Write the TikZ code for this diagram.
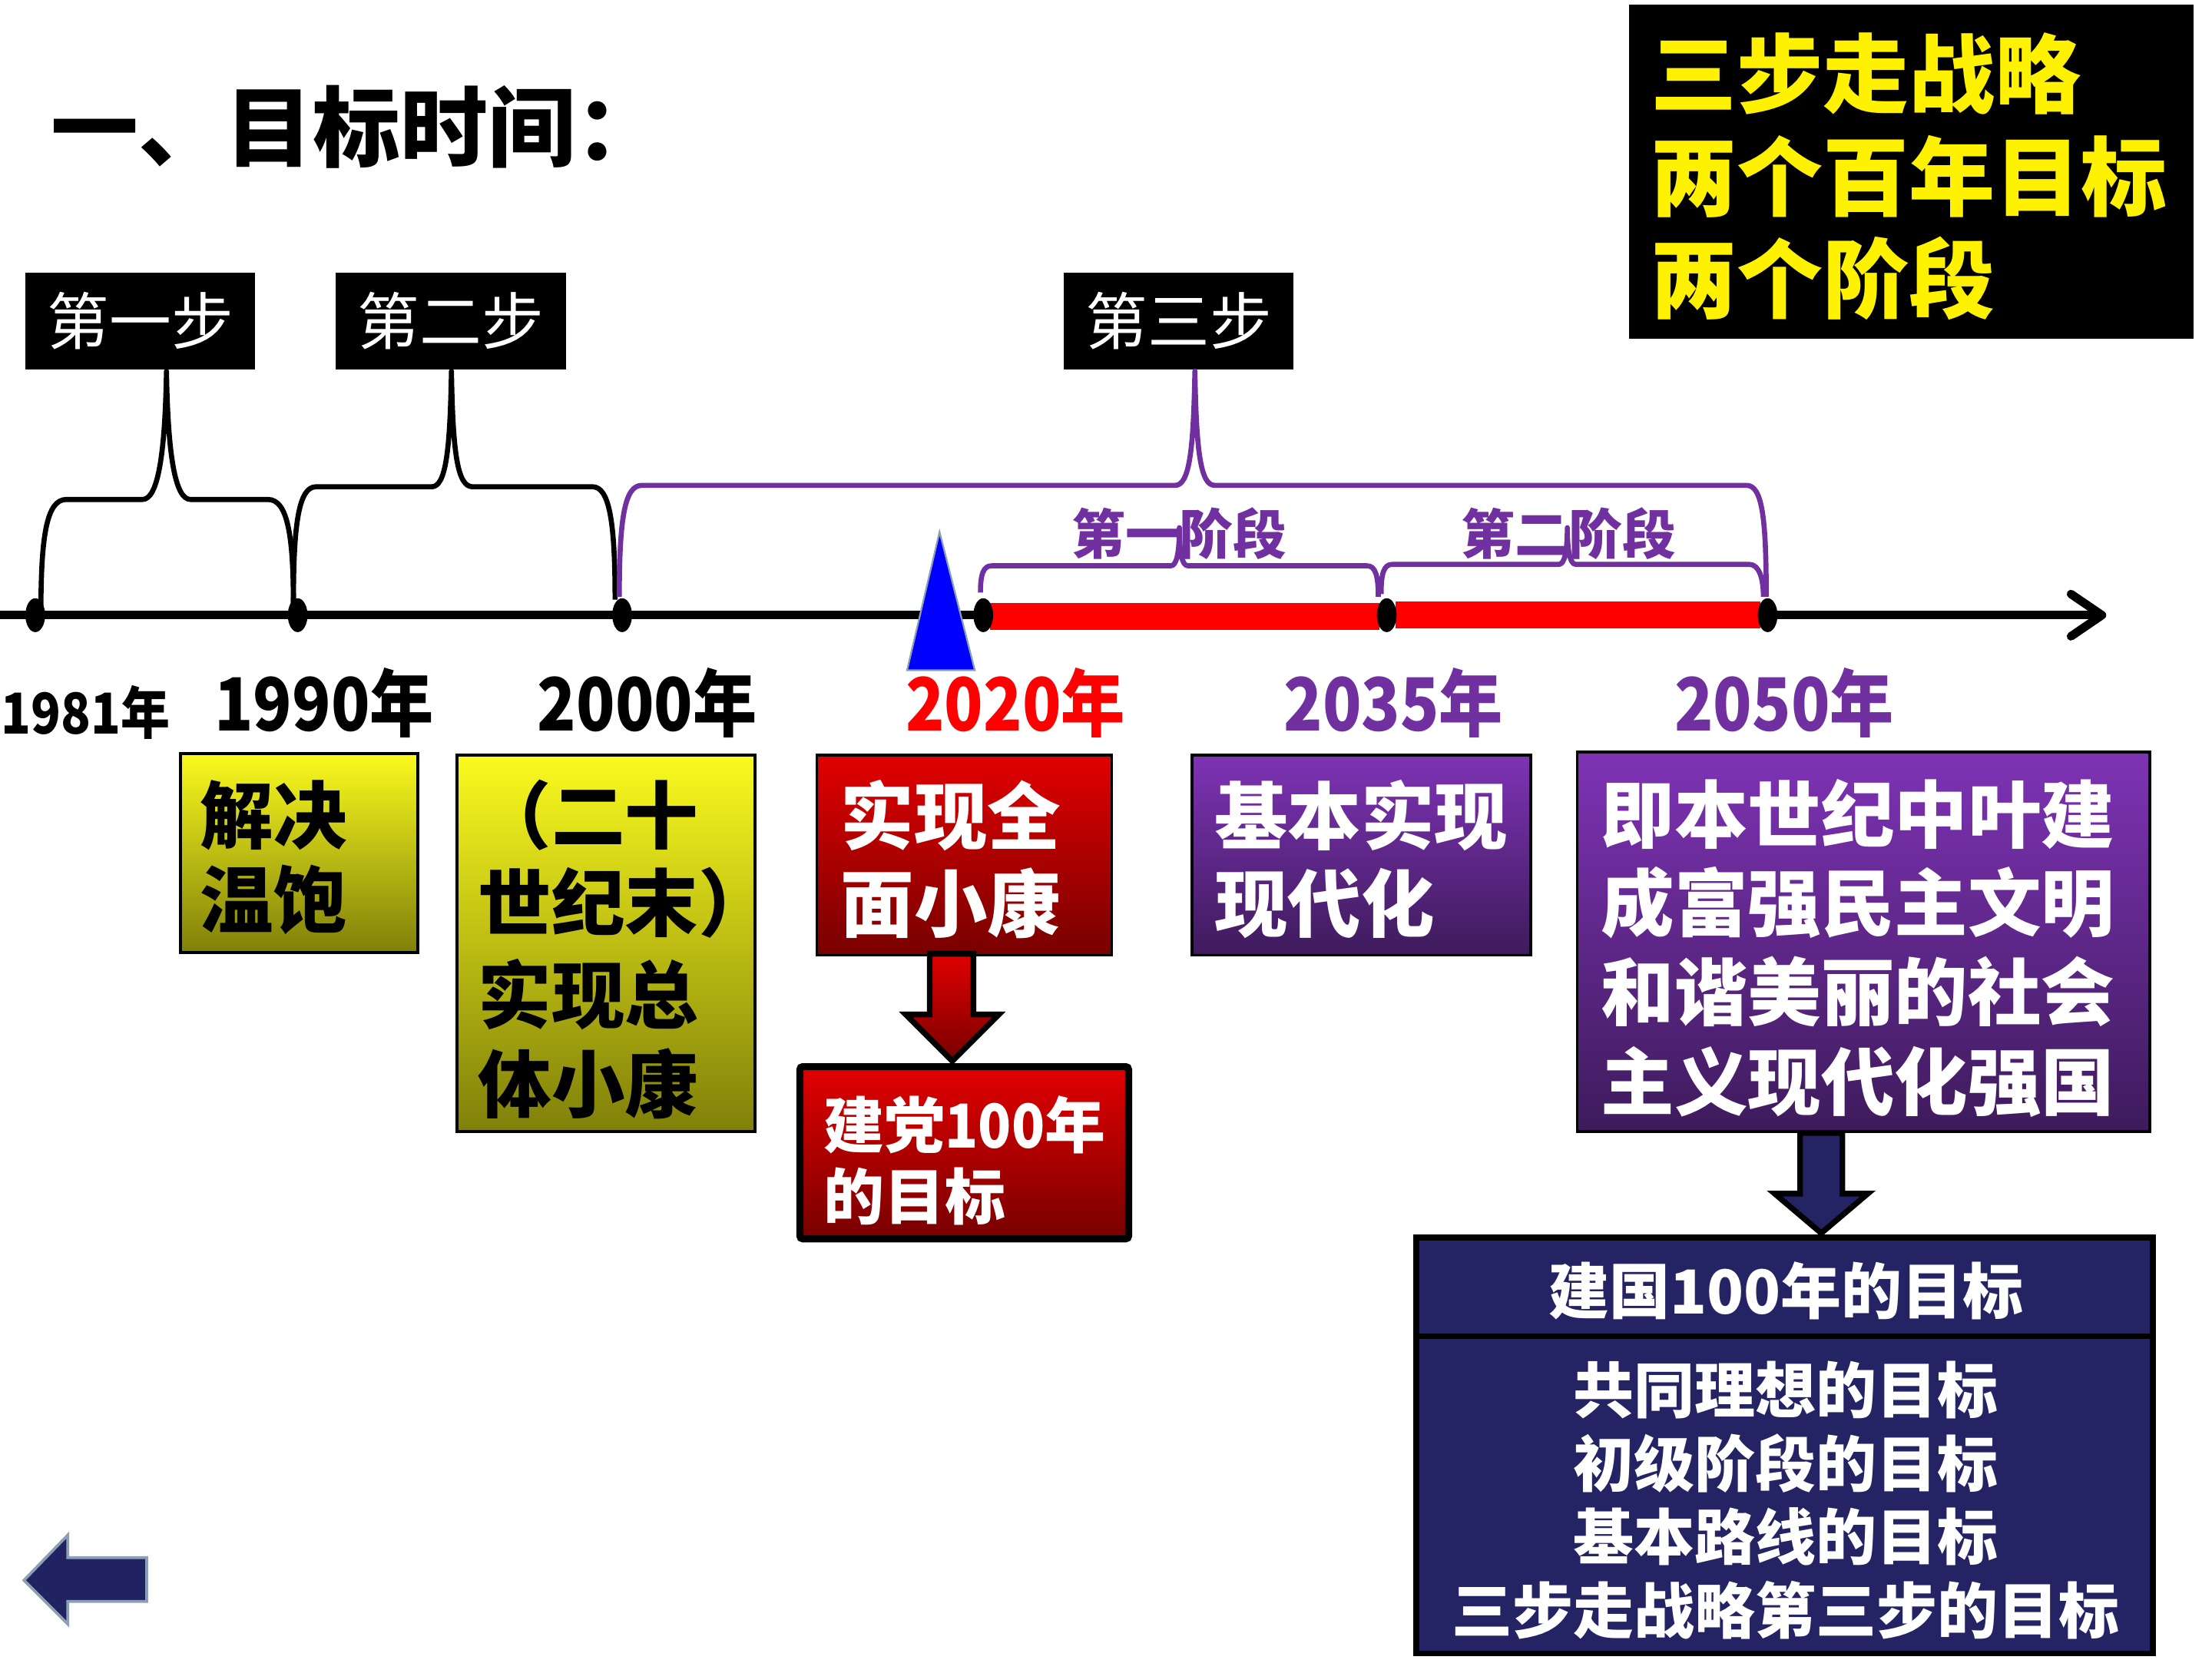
\documentclass[tikz,border=0pt]{standalone}
\usepackage{fontspec}
\newfontfamily\cjk{Noto Sans CJK SC}
\usetikzlibrary{calc}
\newcommand\fsz[1]{\fontsize{#1}{#1}\selectfont}
\newcommand\narrowtxt[1]{\scalebox{0.87}[1]{#1}}
\definecolor{purp}{HTML}{7030A0}
\definecolor{navy}{RGB}{36,35,100}
\definecolor{navyb}{RGB}{33,34,98}
\definecolor{ytop}{RGB}{250,250,30}
\definecolor{ybot}{RGB}{128,128,10}
\definecolor{rtop}{RGB}{225,0,0}
\definecolor{rbot}{RGB}{120,0,0}
\definecolor{ptop}{RGB}{126,51,181}
\definecolor{pbot}{RGB}{62,27,92}
\definecolor{grayblue}{RGB}{140,160,180}
\begin{document}
\begin{tikzpicture}[x=1pt,y=-1pt,
  every node/.style={inner sep=0pt, outer sep=0pt},
  brk/.style={line width=3.6, line join=round},
  axisln/.style={line width=6},
  stepbox/.style={fill=black, text=white, minimum width=163, minimum height=69, font=\cjk\fsz{44}},
  goaltxt/.style={anchor=west, text=yellow, font=\cjk\bfseries\fsz{61}},
  yr/.style={anchor=west, font=\cjk\bfseries\fsz{52}},
  btxt/.style={anchor=west, font=\cjk\bfseries\fsz{52}},
  wtxt/.style={btxt, text=white},
  ntxt/.style={text=white, font=\cjk\bfseries\fsz{43}},
  ybox/.style={draw=black, line width=2, top color=ytop, bottom color=ybot, anchor=north west},
  rbox/.style={draw=black, line width=2, top color=rtop, bottom color=rbot, anchor=north west},
  pbox/.style={draw=black, line width=2, top color=ptop, bottom color=pbot, anchor=north west},
  blockarrow/.style={draw=black, line width=4, line join=miter}
]
\fill[white] (0,0) rectangle (1568,1176);
\useasboundingbox (0,0) rectangle (1568,1176);

% title
\node[anchor=west, font=\cjk\bfseries\fsz{62}] (title) at (36,90) {一、目标时间：};

% goal box
\node[fill=black, anchor=north west, minimum width=400, minimum height=237] (goal) at (1155,3) {};
\node[goaltxt] (g1) at (1170,52) {三步走战略};
\node[goaltxt] (g2) at (1170,125) {两个百年目标};
\node[goaltxt] (g3) at (1170,197) {两个阶段};

% step labels
\node[stepbox] (s1) at (99.5,227.5) {第一步};
\node[stepbox] (s2) at (319.5,227.5) {第二步};
\node[stepbox] (s3) at (835.5,227.5) {第三步};

% brackets
\draw[brk] (29,434) .. controls (29,380) and (33,354) .. (47,354) -- (101,354)
  .. controls (112,354) and (117,322) .. (118,263)
  .. controls (119,322) and (124,354) .. (135,354) -- (190,354)
  .. controls (204,354) and (208,380) .. (208,430);
\draw[brk] (208,427) .. controls (208,370) and (212,345) .. (224,345) -- (306,345)
  .. controls (316,345) and (319,320) .. (320,263)
  .. controls (321,320) and (324,345) .. (335,345) -- (420,345)
  .. controls (432,345) and (436,370) .. (436,425);
\draw[brk, purp] (439,423) .. controls (439,366) and (443,344) .. (455,344) -- (833,344)
  .. controls (843,344) and (846,320) .. (847,263)
  .. controls (848,320) and (851,344) .. (861,344) -- (1238,344)
  .. controls (1249,344) and (1252,366) .. (1252,423);
\draw[brk, purp] (695,420) .. controls (695,407) and (697,401) .. (703,401) -- (830,401)
  .. controls (834,401) and (836,392) .. (836,374)
  .. controls (836,392) and (838,401) .. (842,401) -- (969,401)
  .. controls (975,401) and (977,408) .. (977,423);
\draw[brk, purp] (979,421) .. controls (979,406) and (981,400) .. (987,400) -- (1105,400)
  .. controls (1109,400) and (1111,391) .. (1111,374)
  .. controls (1111,391) and (1113,400) .. (1117,400) -- (1240,400)
  .. controls (1247,400) and (1250,410) .. (1250,423);

\node[font=\cjk\bfseries\fsz{38}, text=purp] (ph1) at (836,378) {第一阶段};
\node[font=\cjk\bfseries\fsz{38}, text=purp] (ph2) at (1112,378) {第二阶段};

% axis
\coordinate (axL) at (0,436);
\coordinate (axR) at (1490,436);
\draw[axisln] (axL) -- (axR);
\draw[axisln, line cap=round, line join=round] (1468,421) -- (axR) -- (1468,451);
\draw[red, line width=19] (702,437) -- (978,437);
\draw[red, line width=19] (989,436) -- (1248,436);

% blue marker
\draw[fill=blue, draw=grayblue, line width=1.2] (643,475) -- (691,475) -- (666,377) -- cycle;

% dots
\foreach \x in {25,211,441,697,983,1253}
  \fill (\x,436) ellipse [x radius=7pt, y radius=12pt];

% years
\node[yr, font=\cjk\bfseries\fsz{40}] (y1981) at (1,505) {\narrowtxt{1981年}};
\node[yr] (y1990) at (152,498) {\narrowtxt{1990年}};
\node[yr] (y2000) at (381,498) {\narrowtxt{2000年}};
\node[yr, text=red] (y2020) at (642,498) {\narrowtxt{2020年}};
\node[yr, text=purp] (y2035) at (910,498) {\narrowtxt{2035年}};
\node[yr, text=purp] (y2050) at (1187,498) {\narrowtxt{2050年}};

% yellow boxes
\node[ybox, minimum width=168, minimum height=141] (b1990) at (128,534) {};
\node[btxt] (t1a) at (142,578) {解决};
\node[btxt] (t1b) at (142,638) {温饱};
\node[ybox, minimum width=211, minimum height=267] (b2000) at (324,535) {};
\node[btxt] (t2a) at (339,578) {（二十};
\node[btxt] (t2b) at (339,640) {世纪末）};
\node[btxt] (t2c) at (339,705) {实现总};
\node[btxt] (t2d) at (339,768) {体小康};

% red boxes
\node[rbox, minimum width=209, minimum height=142] (r2020) at (579,535) {};
\node[wtxt] (t3a) at (596,578) {实现全};
\node[wtxt] (t3b) at (596,640) {面小康};
\node[rbox, line width=5, minimum width=233, minimum height=122, rounded corners=2] (rgoal) at (567,756) {};
\node[wtxt, font=\cjk\bfseries\fsz{43}] (t4a) at (584,797) {建党\scalebox{0.9}[1]{100}年};
\node[wtxt, font=\cjk\bfseries\fsz{43}] (t4b) at (584,848) {的目标};
\path[blockarrow, top color=rtop, bottom color=rbot]
  (659,676) -- (690,676) -- (690,719) -- (708,719) -- (675,752) -- (642,719) -- (659,719) -- cycle;

% purple boxes
\node[pbox, minimum width=240, minimum height=142] (p2035) at (845,535) {};
\node[wtxt] (t5a) at (861,578) {基本实现};
\node[wtxt] (t5b) at (861,640) {现代化};
\node[pbox, minimum width=406, minimum height=269] (p2050) at (1118,533) {};
\node[wtxt] (t6a) at (1135,577) {即本世纪中叶建};
\node[wtxt] (t6b) at (1135,640) {成富强民主文明};
\node[wtxt] (t6c) at (1135,703) {和谐美丽的社会};
\node[wtxt] (t6d) at (1135,767) {主义现代化强国};

% navy box
\node[draw=black, line width=4, fill=navy, anchor=north west, minimum width=522, minimum height=295] (nb) at (1004,877) {};
\coordinate (dv) at (0,947);
\draw[line width=4] (nb.west |- dv) -- (nb.east |- dv);
\node[ntxt] (nh) at (1266,915) {建国100年的目标};
\node[ntxt] (n1) at (1266,985) {共同理想的目标};
\node[ntxt] (n2) at (1266,1037) {初级阶段的目标};
\node[ntxt] (n3) at (1266,1089) {基本路线的目标};
\node[ntxt] (n4) at (1266,1141) {三步走战略第三步的目标};
\path[blockarrow, fill=navy]
  (1276,803) -- (1306,803) -- (1306,846) -- (1324,846) -- (1291,874) -- (1258,846) -- (1276,846) -- cycle;

% back arrow
\path[fill=navyb, draw=grayblue, line width=2]
  (17,1120) -- (48,1088) -- (48,1104) -- (104,1104) -- (104,1135) -- (48,1135) -- (48,1151) -- cycle;
\end{tikzpicture}
\end{document}
